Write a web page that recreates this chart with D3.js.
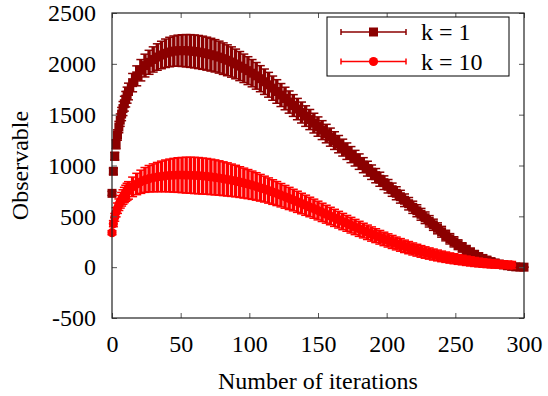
<html>

<head>
    <meta charset="utf-8">
    <script src="https://cdn.jsdelivr.net/npm/d3@7"></script>
    <style>
        body { margin: 0; }
        text { font-family: "Liberation Serif", "Times New Roman", serif; fill: black; }
    </style>
</head>

<body>
    <svg id="chart" width="548" height="396">
        <g id="body" />
        <g id="axes" />
        <g id="legend" />
    </svg>
</body>
<script>
    // iterations where the observable was measured
    let iterations = [0, 1, 2, 3, 4, 5, 6, 7, 8, 9, 10, 11,
        12, 15, 18, 21, 24, 27, 30, 33, 36, 39, 42, 45, 48, 51, 54, 57, 60, 63, 66, 69, 72, 75, 78, 81, 84, 87, 90, 93, 96, 99,
        102, 105, 108, 111, 114, 117, 120, 123, 126, 129, 132, 135, 138, 141, 144, 147, 150, 153, 156, 159, 162, 165, 168, 171, 174, 177, 180, 183, 186, 189, 192, 195, 198,
        201, 204, 207, 210, 213, 216, 219, 222, 225, 228, 231, 234, 237, 240, 243, 246, 249, 252, 255, 258, 261, 264, 267, 270, 273, 276, 279, 282, 285, 288, 291, 294, 297, 300]

    let k1Values = [726, 943, 1091, 1209, 1300, 1378, 1446, 1506, 1560, 1608, 1652, 1692,
        1728, 1815, 1882, 1937, 1983, 2015, 2043, 2067, 2087, 2104, 2116, 2125, 2129, 2130, 2129, 2126, 2122, 2116, 2109, 2100, 2090, 2079, 2066, 2051, 2035, 2018, 1999, 1978, 1956, 1933,
        1908, 1882, 1854, 1824, 1794, 1761, 1728, 1693, 1659, 1624, 1590, 1555, 1521, 1486, 1452, 1417, 1383, 1348, 1314, 1279, 1245, 1210, 1176, 1141, 1107, 1072, 1038, 1003, 969, 934, 900, 865, 831,
        796, 762, 727, 693, 658, 624, 589, 555, 520, 486, 451, 417, 382, 348, 311, 279, 249, 221, 194, 169, 146, 124, 104, 86, 70, 55, 42, 31, 22, 14, 8, 3, 1, 0]

    let k1Errors = [20, 30, 38, 45, 51, 56, 61, 65, 69, 73, 76, 79,
        82, 90, 98, 105, 112, 118, 124, 130, 135, 140, 145, 149, 153, 156, 159, 161, 162, 163, 163, 162, 161, 159, 157, 155, 152, 149, 146, 143, 140, 137,
        134, 131, 128, 125, 122, 119, 116, 113, 111, 109, 107, 105, 103, 101, 99, 97, 95, 93, 91, 89, 87, 85, 83, 81, 79, 77, 76, 74, 73, 71, 70, 69, 67,
        66, 65, 64, 63, 62, 61, 60, 59, 58, 57, 56, 55, 54, 53, 52, 51, 50, 48, 46, 44, 42, 40, 37, 34, 31, 28, 25, 21, 18, 14, 10, 6, 3, 0]

    // k = 10 run stops a bit earlier (up to iteration 291)
    let k10Values = [339, 428, 490, 540, 580, 614, 643, 668, 690, 710, 727, 742,
        755, 790, 818, 840, 858, 870, 879, 886, 893, 898, 902, 904, 906, 906, 905, 904, 902, 900, 896, 893, 888, 883, 877, 870, 863, 855, 847, 837, 827, 817,
        806, 794, 781, 768, 754, 739, 724, 708, 692, 676, 660, 643, 626, 609, 592, 575, 557, 539, 521, 503, 485, 467, 449, 431, 413, 395, 377, 360, 343, 326, 310, 294, 278,
        263, 248, 233, 219, 205, 192, 179, 167, 155, 144, 134, 124, 115, 106, 98, 90, 83, 76, 70, 63, 57, 51, 46, 41, 37, 33, 30, 27, 25, 23, 21]

    let k10Errors = [20, 30, 38, 45, 51, 57, 62, 67, 71, 75, 79, 83,
        86, 96, 105, 114, 122, 130, 137, 144, 150, 156, 161, 166, 170, 173, 176, 177, 178, 178, 177, 176, 174, 172, 169, 166, 163, 159, 155, 151, 147, 143,
        139, 135, 131, 127, 124, 121, 118, 115, 112, 109, 106, 104, 101, 99, 96, 94, 92, 90, 88, 86, 84, 82, 80, 78, 77, 75, 74, 72, 71, 70, 68, 67, 66,
        65, 64, 63, 62, 61, 60, 59, 58, 57, 56, 55, 54, 53, 52, 51, 50, 49, 48, 47, 46, 45, 44, 43, 42, 41, 40, 39, 38, 37, 36, 35]

    let xTicks = [0, 50, 100, 150, 200, 250, 300]
    let yTicks = [-500, 0, 500, 1000, 1500, 2000, 2500]
    let seriesNames = ["k = 1", "k = 10"]
    let seriesColors = ["#8b0000", "#ff0000"]

    let body = d3.select("#body")
    let axes = d3.select("#axes")
    let legend = d3.select("#legend")

    let plotLeft = 112, plotRight = 524, plotTop = 13, plotBottom = 318

    let x = d3.scaleLinear().domain([0, 300]).range([plotLeft, plotRight])
    let y = d3.scaleLinear().domain([-500, 2500]).range([plotBottom, plotTop])

    function makeSeries(values, errors) {
        return values.map((v, i) => ({ n: iterations[i], v: v, e: errors[i] }))
    }

    let series = [makeSeries(k1Values, k1Errors), makeSeries(k10Values, k10Errors)]

    function drawSeries(data, color, symbol) {
        let g = body.append("g")
        let bars = g.selectAll(".bar").data(data).enter().append("g")
        bars.append("line")
            .attr("x1", d => x(d.n)).attr("x2", d => x(d.n))
            .attr("y1", d => y(d.v + d.e)).attr("y2", d => y(d.v - d.e))
            .attr("stroke", color).attr("stroke-width", 3.4)
        bars.append("line")
            .attr("x1", d => x(d.n) - 4.5).attr("x2", d => x(d.n) + 4.5)
            .attr("y1", d => y(d.v + d.e)).attr("y2", d => y(d.v + d.e))
            .attr("stroke", color).attr("stroke-width", 1.5)
        bars.append("line")
            .attr("x1", d => x(d.n) - 4.5).attr("x2", d => x(d.n) + 4.5)
            .attr("y1", d => y(d.v - d.e)).attr("y2", d => y(d.v - d.e))
            .attr("stroke", color).attr("stroke-width", 1.5)

        if (symbol == "square") {
            g.selectAll(".pt").data(data).enter().append("rect")
                .attr("x", d => x(d.n) - 4.5).attr("y", d => y(d.v) - 4.5)
                .attr("width", 9).attr("height", 9)
                .attr("fill", color)
        } else {
            g.selectAll(".pt").data(data).enter().append("circle")
                .attr("cx", d => x(d.n)).attr("cy", d => y(d.v))
                .attr("r", 4.6)
                .attr("fill", color)
        }
    }

    drawSeries(series[0], seriesColors[0], "square")
    drawSeries(series[1], seriesColors[1], "circle")

    // axes, ticks inward on all four sides
    let fmt = d => String(d).replace("\u2212", "-")
    let bottomAxis = d3.axisBottom(x).tickValues(xTicks).tickSizeInner(-5).tickSizeOuter(0).tickPadding(17).tickFormat(fmt)
    let topAxis = d3.axisTop(x).tickValues(xTicks).tickSizeInner(-5).tickSizeOuter(0).tickFormat("")
    let leftAxis = d3.axisLeft(y).tickValues(yTicks).tickSizeInner(-5).tickSizeOuter(0).tickPadding(16).tickFormat(fmt)
    let rightAxis = d3.axisRight(y).tickValues(yTicks).tickSizeInner(-5).tickSizeOuter(0).tickFormat("")

    axes.append("g").attr("transform", `translate(0,${plotBottom})`).call(bottomAxis)
    axes.append("g").attr("transform", `translate(0,${plotTop})`).call(topAxis)
    axes.append("g").attr("transform", `translate(${plotLeft},0)`).call(leftAxis)
    axes.append("g").attr("transform", `translate(${plotRight},0)`).call(rightAxis)

    axes.selectAll("g")
        .attr("font-family", "Liberation Serif, serif")
        .attr("font-size", 24)
    axes.selectAll(".domain").remove()
    axes.selectAll(".tick line").attr("stroke", "#555")
    axes.selectAll(".tick text").attr("fill", "black")

    axes.append("rect")
        .attr("x", plotLeft).attr("y", plotTop)
        .attr("width", plotRight - plotLeft).attr("height", plotBottom - plotTop)
        .attr("fill", "none").attr("stroke", "#222").attr("stroke-width", 1.2)

    axes.append("text")
        .attr("x", (plotLeft + plotRight) / 2).attr("y", 389)
        .attr("text-anchor", "middle")
        .style("font-size", "24px")
        .text("Number of iterations")

    axes.append("text")
        .attr("transform", `translate(28,${(plotTop + plotBottom) / 2}) rotate(-90)`)
        .attr("text-anchor", "middle")
        .style("font-size", "24px")
        .text("Observable")

    // legend
    legend.append("rect")
        .attr("x", 327).attr("y", 17).attr("width", 182).attr("height", 59)
        .attr("fill", "white").attr("stroke", "black").attr("stroke-width", 1)

    let rows = legend.selectAll(".row").data(seriesNames).enter().append("g")
        .attr("transform", (d, i) => `translate(0,${32 + i * 29.5})`)

    rows.append("line").attr("x1", 341).attr("x2", 406).attr("y1", 0).attr("y2", 0)
        .attr("stroke", (d, i) => seriesColors[i]).attr("stroke-width", 1.5)
    rows.append("line").attr("x1", 341).attr("x2", 341).attr("y1", -3).attr("y2", 3)
        .attr("stroke", (d, i) => seriesColors[i]).attr("stroke-width", 1.5)
    rows.append("line").attr("x1", 406).attr("x2", 406).attr("y1", -3).attr("y2", 3)
        .attr("stroke", (d, i) => seriesColors[i]).attr("stroke-width", 1.5)
    rows.filter((d, i) => i == 0).append("rect")
        .attr("x", 369).attr("y", -4.5).attr("width", 9).attr("height", 9)
        .attr("fill", seriesColors[0])
    rows.filter((d, i) => i == 1).append("circle")
        .attr("cx", 373.5).attr("cy", 0).attr("r", 4.6)
        .attr("fill", seriesColors[1])
    rows.append("text").attr("x", 421).attr("y", 0).attr("dy", "0.34em")
        .style("font-size", "24px")
        .text(d => d)
</script>

</html>
